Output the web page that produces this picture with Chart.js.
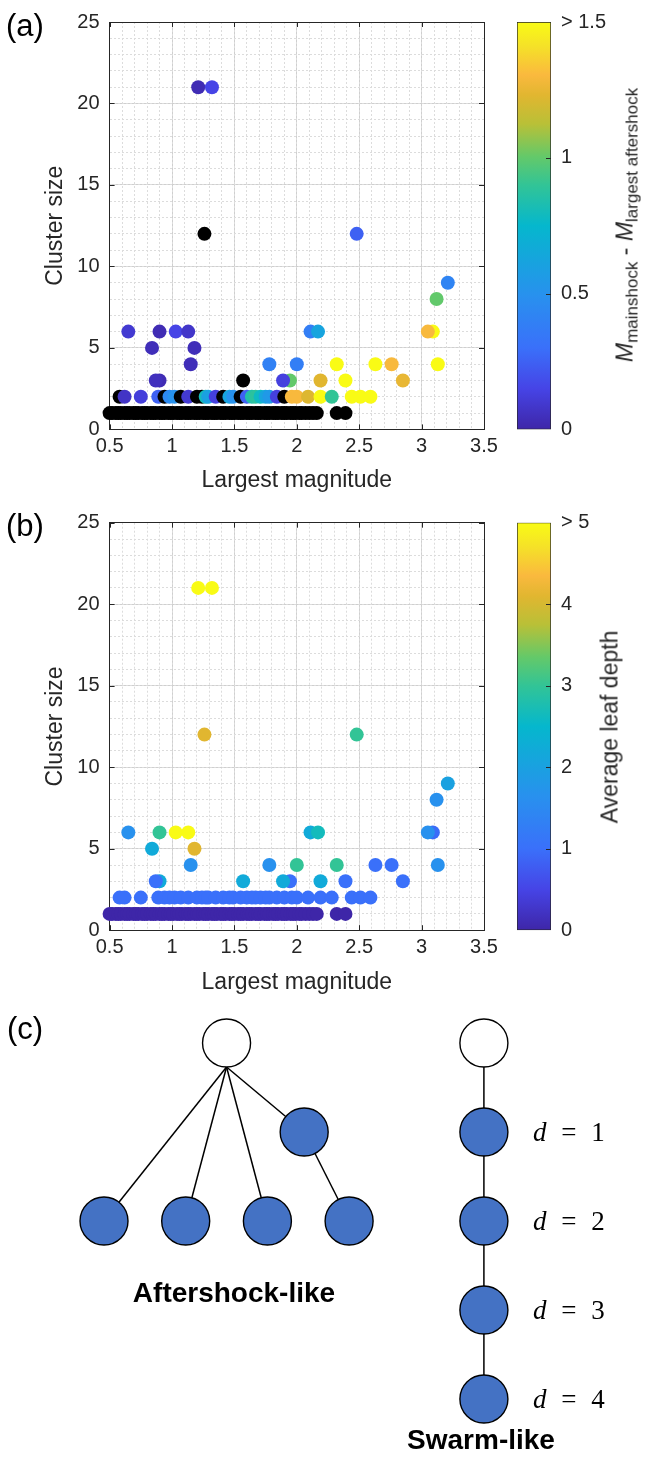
<!DOCTYPE html>
<html>
<head>
<meta charset="utf-8">
<script src="https://cdn.jsdelivr.net/npm/chart.js@4.4.1/dist/chart.umd.min.js"></script>
<style>
  html, body { margin: 0; padding: 0; background: #ffffff; }
  body { width: 645px; height: 1461px; position: relative; overflow: hidden;
         font-family: "Liberation Sans", Arial, sans-serif; color: #262626; }
  canvas { position: absolute; }
  .lbl { position: absolute; white-space: nowrap; line-height: 1; }
  .panel { font-size: 31px; color: #000; transform: translate(0, -50%); }
  .rot { transform: translate(-50%, -50%) rotate(-90deg); font-size: 23px; }
  .rot sub { font-size: 17px; vertical-align: -5px; }
  .tree { font-weight: bold; font-size: 28px; color: #000; transform: translate(-50%, -50%); }
  .dl { font-family: "Liberation Serif", "DejaVu Serif", serif; font-size: 27px; color: #000;
        transform: translate(0, -50%); word-spacing: 8px; }
</style>
</head>
<body>
<canvas id="scA" width="500" height="500" style="left:0;top:0"></canvas>
<canvas id="cbA" width="140" height="500" style="left:505px;top:0"></canvas>
<canvas id="scB" width="500" height="500" style="left:0;top:500px"></canvas>
<canvas id="cbB" width="140" height="500" style="left:505px;top:500px"></canvas>
<canvas id="tree" width="645" height="461" style="left:0;top:1000px"></canvas>

<div class="lbl panel" style="left:6px;top:25px">(a)</div>
<div class="lbl panel" style="left:6px;top:525px">(b)</div>
<div class="lbl panel" style="left:7px;top:1028px">(c)</div>
<div class="lbl rot" style="left:627px;top:225px"><i>M</i><sub>mainshock</sub> - <i>M</i><sub>largest aftershock</sub></div>
<div class="lbl rot" style="left:610px;top:727px">Average leaf depth</div>
<div class="lbl tree" style="left:234px;top:1293px">Aftershock-like</div>
<div class="lbl tree" style="left:481px;top:1440px">Swarm-like</div>
<div id="dlabels"></div>

<script>
// ---------------- data ----------------
// each cluster: largest magnitude, cluster size, M_mainshock - M_largest aftershock (null = undefined, drawn black), average leaf depth
const magnitude = [
  // size 1
  0.50,0.52,0.55,0.57,0.59,0.62,0.64,0.66,0.69,0.71,0.73,0.76,0.78,0.80,0.83,0.85,0.87,0.90,0.92,0.94,
  0.97,0.99,1.01,1.04,1.06,1.08,1.11,1.13,1.15,1.18,1.20,1.22,1.25,1.27,1.29,1.32,1.34,1.36,1.39,1.41,
  1.43,1.46,1.48,1.50,1.53,1.55,1.57,1.60,1.62,1.64,1.67,1.69,1.71,1.74,1.76,1.78,1.81,1.83,1.85,1.88,
  1.90,1.92,1.95,1.97,1.99,2.02,2.04,2.07,2.10,2.13,2.16,2.32,2.39,
  // size 2
  0.58,0.62,0.75,0.89,0.94,0.98,1.02,1.07,1.13,1.20,1.24,1.27,1.29,1.35,1.41,1.46,1.49,1.55,1.60,1.64,
  1.67,1.71,1.75,1.78,1.84,1.90,1.96,2.00,2.09,2.19,2.28,2.44,2.51,2.59,
  // size >= 3
  0.90,0.87,1.57,1.945,1.89,2.19,2.39,2.85,
  1.15,1.78,2.00,2.32,2.63,2.76,3.13,
  0.84,1.18,
  0.65,0.90,1.03,1.13,2.11,2.17,3.09,3.05,
  3.12,3.21,2.48,1.26,1.21,1.32
];
const clusterSize = [
  1,1,1,1,1,1,1,1,1,1,1,1,1,1,1,1,1,1,1,1,
  1,1,1,1,1,1,1,1,1,1,1,1,1,1,1,1,1,1,1,1,
  1,1,1,1,1,1,1,1,1,1,1,1,1,1,1,1,1,1,1,1,
  1,1,1,1,1,1,1,1,1,1,1,1,1,
  2,2,2,2,2,2,2,2,2,2,2,2,2,2,2,2,2,2,2,2,
  2,2,2,2,2,2,2,2,2,2,2,2,2,2,
  3,3,3,3,3,3,3,3,
  4,4,4,4,4,4,4,
  5,5,
  6,6,6,6,6,6,6,6,
  8,9,12,12,21,21
];
const deltaM = [
  null,null,null,null,null,null,null,null,null,null,null,null,null,null,null,null,null,null,null,null,
  null,null,null,null,null,null,null,null,null,null,null,null,null,null,null,null,null,null,null,null,
  null,null,null,null,null,null,null,null,null,null,null,null,null,null,null,null,null,null,null,null,
  null,null,null,null,null,null,null,null,null,null,null,null,null,
  null,0.07,0.12,0.25,null,0.45,0.50,null,0.10,null,null,0.80,0.60,0.13,null,0.62,0.50,null,0.25,0.85,
  0.88,0.78,0.62,0.55,0.13,null,1.30,1.30,1.22,1.50,0.90,1.50,1.50,1.50,
  0.03,0.05,null,1.00,0.13,1.23,1.50,1.25,
  0.04,0.40,0.38,1.50,1.50,1.30,1.50,
  0.04,0.04,
  0.10,0.03,0.15,0.08,0.38,0.62,1.50,1.30,
  1.00,0.42,0.25,null,0.03,0.15
];
const leafDepth = [
  0,0,0,0,0,0,0,0,0,0,0,0,0,0,0,0,0,0,0,0,
  0,0,0,0,0,0,0,0,0,0,0,0,0,0,0,0,0,0,0,0,
  0,0,0,0,0,0,0,0,0,0,0,0,0,0,0,0,0,0,0,0,
  0,0,0,0,0,0,0,0,0,0,0,0,0,
  1,1,1,1,1,1,1,1,1,1,1,1,1,1,1,1,1,1,1,1,
  1,1,1,1,1,1,1,1,1,1,1,1,1,1,
  2.2,1.0,2.2,1.0,2.2,2.2,1.0,1.0,
  1.65,1.65,3.0,3.0,1.0,1.0,1.65,
  2.2,4.1,
  1.65,3.0,5.5,5.5,2.2,2.65,0.95,1.65,
  1.65,2.0,3.0,4.1,5.5,5.5
];

// tick values / labels
const xTickValues = [0.5, 1, 1.5, 2, 2.5, 3, 3.5];
const xTickLabels = ['0.5', '1', '1.5', '2', '2.5', '3', '3.5'];
const yTickValues = [0, 5, 10, 15, 20, 25];
const yTickLabels = ['0', '5', '10', '15', '20', '25'];
const cbTickValuesA = [0, 0.5, 1, 1.5];
const cbTickLabelsA = ['0', '0.5', '1', '> 1.5'];
const cbTickValuesB = [0, 1, 2, 3, 4, 5];
const cbTickLabelsB = ['0', '1', '2', '3', '4', '> 5'];

// tree schematic (panel c): slot index across, depth level down
const aftershockX = [1.5, 2.45, 0, 1, 2, 3];
const aftershockLevel = [0, 1, 2, 2, 2, 2];
const aftershockEdges = [[0, 1], [0, 2], [0, 3], [0, 4], [1, 5]];
const swarmX = [4.65, 4.65, 4.65, 4.65, 4.65];
const swarmLevel = [0, 1, 2, 3, 4];
const swarmEdges = [[0, 1], [1, 2], [2, 3], [3, 4]];
const depthLabels = ['d = 1', 'd = 2', 'd = 3', 'd = 4'];

// ---------------- styles ----------------
const textColor = '#262626';
const axisColor = '#262626';
const tickFont = { family: '"Liberation Sans", Arial, sans-serif', size: 20 };
const labelFont = { family: '"Liberation Sans", Arial, sans-serif', size: 23 };
const cmapStops = [
  [0.00, 62, 38, 168], [0.10, 70, 68, 230], [0.20, 58, 112, 250], [0.33, 40, 145, 238],
  [0.50, 5, 183, 205], [0.60, 50, 196, 150], [0.67, 100, 201, 105], [0.75, 185, 192, 55],
  [0.82, 225, 182, 48], [0.87, 250, 185, 62], [0.94, 245, 225, 40], [1.00, 249, 251, 21]
];
function cmap(t) {
  t = Math.max(0, Math.min(1, t));
  for (let i = 1; i < cmapStops.length; i++) {
    const a = cmapStops[i - 1], b = cmapStops[i];
    if (t <= b[0]) {
      const f = (t - a[0]) / (b[0] - a[0]);
      return 'rgb(' + [1, 2, 3].map(k => Math.round(a[k] + f * (b[k] - a[k]))).join(',') + ')';
    }
  }
  const l = cmapStops[cmapStops.length - 1];
  return 'rgb(' + l[1] + ',' + l[2] + ',' + l[3] + ')';
}
const cbMaxA = cbTickValuesA[cbTickValuesA.length - 1];
const cbMaxB = cbTickValuesB[cbTickValuesB.length - 1];
const colorsA = deltaM.map(v => v === null ? '#000000' : cmap(v / cbMaxA));
const colorsB = leafDepth.map(v => cmap(v / cbMaxB));

function minorSteps(lo, hi, step) {
  const out = [];
  for (let v = lo; v <= hi + 1e-9; v += step) out.push({ value: Math.round(v * 1000) / 1000 });
  return out;
}

const common = { responsive: false, animation: false, events: [], devicePixelRatio: 1 };

// short inward tick marks on all four sides of the box (MATLAB style)
const innerTicks = {
  id: 'innerTicks',
  afterDraw(chart, args, opts) {
    const { ctx, chartArea: a } = chart;
    const L = 5;
    ctx.save();
    ctx.strokeStyle = axisColor;
    ctx.lineWidth = 1;
    ctx.beginPath();
    if (opts.x) {
      const sx = chart.scales.x;
      opts.x.forEach(v => {
        const px = Math.round(sx.getPixelForValue(v)) + 0.5;
        ctx.moveTo(px, a.bottom); ctx.lineTo(px, a.bottom - L);
        ctx.moveTo(px, a.top); ctx.lineTo(px, a.top + L);
      });
    }
    if (opts.y) {
      const sy = chart.scales.y;
      opts.y.forEach(v => {
        const py = Math.round(sy.getPixelForValue(v)) + 0.5;
        if (!opts.rightOnly) { ctx.moveTo(a.left, py); ctx.lineTo(a.left + L, py); }
        ctx.moveTo(a.right, py); ctx.lineTo(a.right - L, py);
      });
    }
    ctx.stroke();
    ctx.restore();
  }
};

function makeScatter(id, colors, padTop, areaBottom, canvasH, titlePadBottom) {
  const xAxisH = canvasH - areaBottom;
  const xMin = xTickValues[0], xMax = xTickValues[xTickValues.length - 1];
  const yMin = yTickValues[0], yMax = yTickValues[yTickValues.length - 1];
  return new Chart(document.getElementById(id), {
    type: 'scatter',
    plugins: [innerTicks],
    data: { datasets: [{
      data: magnitude.map((m, i) => ({ x: m, y: clusterSize[i] })),
      backgroundColor: colors, pointRadius: 7, pointHoverRadius: 7,
      borderWidth: 0, pointBorderWidth: 0, clip: false
    }] },
    options: Object.assign({}, common, {
      layout: { padding: { top: padTop, right: 16, left: 0, bottom: 0 }, autoPadding: false },
      plugins: { legend: { display: false }, tooltip: { enabled: false },
                 innerTicks: { x: xTickValues, y: yTickValues } },
      scales: {
        x: {
          type: 'linear', position: 'bottom', min: xMin, max: xMax,
          afterBuildTicks: s => { s.ticks = xTickValues.map(v => ({ value: v })); },
          afterFit: s => { s.height = xAxisH; s.paddingLeft = 0; s.paddingRight = 0; },
          ticks: { callback: (v, i) => xTickLabels[i], font: tickFont, color: textColor, padding: 5, maxRotation: 0, autoSkip: false },
          grid: { color: '#cfcfcf', drawTicks: false, lineWidth: 1 },
          border: { color: axisColor, width: 1 },
          title: { display: true, text: 'Largest magnitude', font: labelFont, color: textColor, padding: { top: 0, bottom: titlePadBottom } }
        },
        xMinor: {
          type: 'linear', position: 'bottom', min: xMin, max: xMax,
          afterBuildTicks: s => { s.ticks = minorSteps(xMin, xMax, 0.1); },
          afterFit: s => { s.height = 0; s.paddingLeft = 0; s.paddingRight = 0; },
          ticks: { display: false },
          grid: { color: '#dcdcdc', drawTicks: false, lineWidth: 1 },
          border: { display: false, dash: [2, 2] }
        },
        xTop: {
          type: 'linear', position: 'top', min: xMin, max: xMax,
          afterFit: s => { s.height = 0; s.paddingLeft = 0; s.paddingRight = 0; },
          ticks: { display: false }, grid: { display: false, drawTicks: false },
          border: { display: true, color: axisColor, width: 1 }
        },
        y: {
          type: 'linear', position: 'left', min: yMin, max: yMax,
          afterBuildTicks: s => { s.ticks = yTickValues.map(v => ({ value: v })); },
          afterFit: s => { s.width = 109.6; s.paddingTop = 0; s.paddingBottom = 0; },
          ticks: { callback: (v, i) => yTickLabels[i], font: tickFont, color: textColor, padding: 10 },
          grid: { color: '#cfcfcf', drawTicks: false, lineWidth: 1 },
          border: { color: axisColor, width: 1 },
          title: { display: true, text: 'Cluster size', font: labelFont, color: textColor, padding: { top: 42, bottom: 0 } }
        },
        yMinor: {
          type: 'linear', position: 'left', min: yMin, max: yMax,
          afterBuildTicks: s => { s.ticks = minorSteps(yMin, yMax, 1); },
          afterFit: s => { s.width = 0; s.paddingTop = 0; s.paddingBottom = 0; },
          ticks: { display: false },
          grid: { color: '#dcdcdc', drawTicks: false, lineWidth: 1 },
          border: { display: false, dash: [2, 2] }
        },
        yRight: {
          type: 'linear', position: 'right', min: yMin, max: yMax,
          afterFit: s => { s.width = 0; s.paddingTop = 0; s.paddingBottom = 0; },
          ticks: { display: false }, grid: { display: false, drawTicks: false },
          border: { display: true, color: axisColor, width: 1 }
        }
      }
    })
  });
}

function makeColorbar(id, maxV, tickVals, tickLabels, padTop, padBottom) {
  return new Chart(document.getElementById(id), {
    type: 'bar',
    plugins: [innerTicks],
    data: { labels: [''], datasets: [{
      data: [maxV],
      backgroundColor: ctx => {
        const ca = ctx.chart.chartArea;
        if (!ca) return '#888888';
        const g = ctx.chart.ctx.createLinearGradient(0, ca.bottom, 0, ca.top);
        cmapStops.forEach(s => g.addColorStop(s[0], 'rgb(' + s[1] + ',' + s[2] + ',' + s[3] + ')'));
        return g;
      },
      borderColor: axisColor, borderWidth: 1, borderSkipped: false,
      barPercentage: 1, categoryPercentage: 1
    }] },
    options: Object.assign({}, common, {
      layout: { padding: { left: 12, top: padTop, bottom: padBottom, right: 0 }, autoPadding: false },
      plugins: { legend: { display: false }, tooltip: { enabled: false },
                 innerTicks: { y: tickVals.slice(1, -1), rightOnly: true } },
      scales: {
        x: { display: false },
        y: {
          position: 'right', min: 0, max: maxV,
          afterBuildTicks: s => { s.ticks = tickVals.map(v => ({ value: v })); },
          afterFit: s => { s.width = 94; s.paddingTop = 0; s.paddingBottom = 0; },
          ticks: { callback: (v, i) => tickLabels[i], font: tickFont, color: textColor, padding: 10 },
          grid: { display: false, drawTicks: false },
          border: { display: false }
        }
      }
    })
  });
}

makeScatter('scA', colorsA, 22, 429.4, 500, 6);
makeColorbar('cbA', cbMaxA, cbTickValuesA, cbTickLabelsA, 22, 500 - 429.4);
makeScatter('scB', colorsB, 22.7, 430.2, 500, 4);
makeColorbar('cbB', cbMaxB, cbTickValuesB, cbTickLabelsB, 22.7, 500 - 430.2);

// ---------------- panel (c) tree schematic ----------------
const slotPx = 81.7, leftSlotPx = 104, levelPx = 89, topLevelPx = 43, nodeR = 24;
const treeW = 645, treeH = 461;
const nodeBlue = '#4472c4';
function edgeData(xs, lv, edges) {
  return edges.map(([p, c]) => ({
    data: [
      { x: xs[p], y: lv[p] + (p === 0 ? nodeR / levelPx : 0) },
      { x: xs[c], y: lv[c] }
    ],
    showLine: true, borderColor: '#000000', borderWidth: 1.5, pointRadius: 0, order: 2, clip: false
  }));
}
const allX = aftershockX.concat(swarmX);
const allLv = aftershockLevel.concat(swarmLevel);
const nodeColors = allLv.map((l, i) => (i === 0 || i === aftershockX.length) ? '#ffffff' : nodeBlue);
new Chart(document.getElementById('tree'), {
  type: 'scatter',
  data: { datasets: [
    ...edgeData(aftershockX, aftershockLevel, aftershockEdges),
    ...edgeData(swarmX, swarmLevel, swarmEdges),
    { data: allX.map((x, i) => ({ x: x, y: allLv[i] })), pointRadius: nodeR, pointHoverRadius: nodeR,
      backgroundColor: nodeColors, borderColor: '#000000', borderWidth: 1.4, order: 1, clip: false }
  ] },
  options: Object.assign({}, common, {
    layout: { padding: 0, autoPadding: false },
    plugins: { legend: { display: false }, tooltip: { enabled: false } },
    scales: {
      x: { type: 'linear', display: false, min: -leftSlotPx / slotPx, max: (treeW - leftSlotPx) / slotPx },
      y: { type: 'linear', display: false, reverse: true, min: -topLevelPx / levelPx, max: (treeH - topLevelPx) / levelPx }
    }
  })
});

// depth labels beside the swarm chain
const dl = document.getElementById('dlabels');
depthLabels.forEach((t, i) => {
  const d = document.createElement('div');
  d.className = 'lbl dl';
  d.style.left = '533px';
  d.style.top = (1000 + topLevelPx + (i + 1) * levelPx) + 'px';
  const parts = t.split(' ');
  d.innerHTML = '<i>' + parts[0] + '</i> ' + parts.slice(1).join(' ');
  dl.appendChild(d);
});
</script>
</body>
</html>
